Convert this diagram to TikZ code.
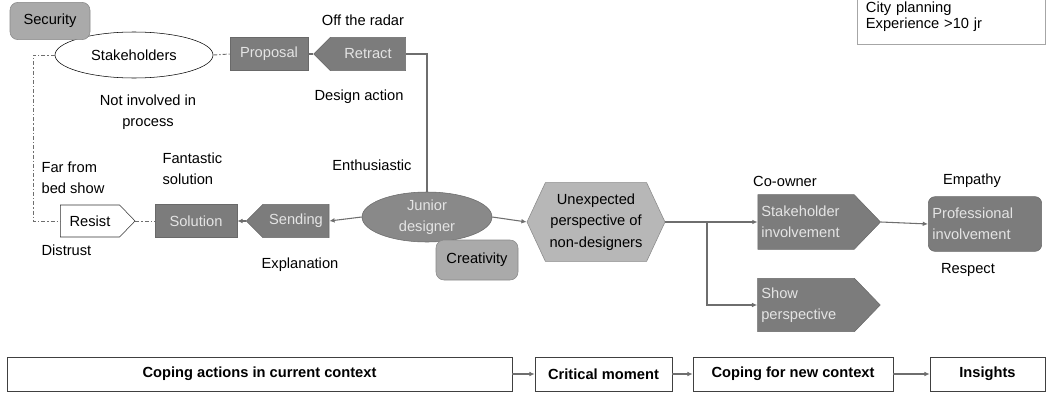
\documentclass[tikz,border=0pt]{standalone}
\usepackage{fontspec}
\setmainfont{Liberation Sans}
\definecolor{boxgray}{RGB}{124,124,124}
\definecolor{boxedge}{RGB}{105,105,105}
\definecolor{softgray}{RGB}{170,170,170}
\definecolor{linegray}{RGB}{110,110,110}
\definecolor{txtlight}{RGB}{228,228,228}
\newcommand{\dfont}{\fontsize{11}{16}\selectfont}
\usetikzlibrary{arrows.meta, positioning, calc, shapes}

\begin{document}
\begin{tikzpicture}[x=0.75pt, y=-0.75pt,
  darkbox/.style={draw=boxedge, fill=boxgray, text=txtlight, inner sep=2pt,
                  minimum height=25pt, align=center, font=\dfont},
  tagleft/.style={darkbox, shape=signal, signal to=west, signal pointer angle=90},
  tagright/.style={darkbox, shape=signal, signal to=east, signal pointer angle=92, align=left},
  softbox/.style={draw=softgray!80!black, fill=softgray, rounded corners=6pt, inner sep=2pt,
                  align=center, font=\dfont},
  lbl/.style={font=\dfont, align=center, inner sep=1pt},
  stage/.style={draw=black!75, fill=white, minimum height=25.5pt, font=\dfont\bfseries},
  link/.style={draw=linegray, line width=0.8pt},
  arr/.style={link, -{Latex[length=4pt, width=3.5pt]}},
  ddash/.style={draw=linegray, line width=0.7pt, dash pattern=on 3pt off 1.5pt on 1pt off 1.5pt}
]
\useasboundingbox (0,0) rectangle (1049,396);

% Profile box
\node[draw=black!35, fill=white, minimum width=141pt, minimum height=42pt, text width=128pt,
      align=left, inner sep=5pt, font=\fontsize{11}{11.5}\selectfont, anchor=south west]
  (profile) at (857,45) {City planning\\Experience >10 jr\\[2pt]};

% Current context
\node[draw=black, fill=white, ellipse, minimum width=118.5pt, minimum height=34.5pt,
      inner sep=0pt, font=\dfont] (stake) at (134,55) {Stakeholders};
\node[softbox, minimum width=60pt, minimum height=28pt] (security) at (50,21) {Security};
\node[darkbox, minimum width=58.5pt] (proposal) at (269,54) {Proposal};
\node[tagleft, minimum width=69pt] (retract) at (368,54) {Retract};

\node[tagright, draw=black!80, fill=white, text=black, minimum width=56pt, minimum height=24pt,
      align=center] (resist) at (90,221) {Resist};
\node[darkbox, minimum width=61.5pt] (solution) at (196,221) {Solution};
\node[tagleft, minimum width=62pt] (sending) at (296,221) {Sending};
\node[ellipse, draw=boxedge, fill=boxgray!90, text=txtlight, minimum width=97.5pt,
      minimum height=37.5pt, inner sep=0pt, align=center, font=\dfont]
  (junior) at (427,217) {Junior\\designer};
\node[softbox, minimum width=61.5pt, minimum height=30pt] (creativity) at (477,260) {Creativity};

% Critical moment and new context
\node[darkbox, shape=signal, signal to=east and west, signal pointer angle=130,
      fill=softgray!85, draw=softgray!80!black, text=black, minimum width=103.5pt,
      minimum height=59pt] (unexp) at (596,222) {Unexpected\\perspective of\\non-designers};
\node[tagright, text width=67pt, minimum width=92pt, minimum height=41pt] (stakeinv)
  at (806,222) {Stakeholder\\involvement};
\node[tagright, text width=67pt, minimum width=92pt, minimum height=40pt] (showpersp)
  at (806,305) {Show\\perspective};
\node[darkbox, rounded corners=5pt, text width=79pt, minimum width=85pt, minimum height=41pt,
      align=left] (profinv) at (985,224) {Professional\\involvement};

% Labels
\node[lbl] (offradar) at (363,20) {Off the radar};
\node[lbl] (notinv) at (148,112) {Not involved in\\process};
\node[lbl] (designact) at (359,97) {Design action};
\node[lbl, anchor=west, align=left] (farbed) at (40,178) {Far from\\bed show};
\node[lbl, anchor=west, align=left] (fantastic) at (161,169) {Fantastic\\solution};
\node[lbl] (enthus) at (372,165) {Enthusiastic};
\node[lbl, anchor=west] (distrust) at (40,250) {Distrust};
\node[lbl] (explan) at (300,265) {Explanation};
\node[lbl] (coowner) at (785,181) {Co-owner};
\node[lbl] (empathy) at (972,181) {Empathy};
\node[lbl] (respect) at (968,270) {Respect};

% Stages
\node[stage, minimum width=378.75pt] (b1) at (259.5,374) {Coping actions in current context};
\node[stage, minimum width=102.75pt] (b2) at (603.5,374) {Critical moment};
\node[stage, minimum width=150pt] (b3) at (793,374) {Coping for new context};
\node[stage, minimum width=86.25pt] (b4) at (987.5,374) {Insights};

% Connectors
\coordinate (loopx) at (33,140);
\coordinate (split) at (707,222);
\draw[ddash] (stake.west) -| (loopx) |- (resist.west);
\draw[ddash] (stake.east) -- (proposal.west);
\draw[link] (proposal.east) -- (retract.west);
\draw[link] (retract.east) -| (junior.north);
\draw[ddash] (resist.east) -- (solution.west);
\draw[arr] (sending.west) -- (solution.east);
\draw[arr] (junior.west) -- (sending.east);
\draw[arr] (junior.east) -- (unexp.west);
\draw[arr] (unexp.east) -- (stakeinv.west);
\draw[arr] (split) |- (showpersp.west);
\draw[arr] (stakeinv.east) -- (profinv.west);
\draw[arr] (b1) -- (b2);
\draw[arr] (b2) -- (b3);
\draw[arr] (b3) -- (b4);
\end{tikzpicture}
\end{document}
